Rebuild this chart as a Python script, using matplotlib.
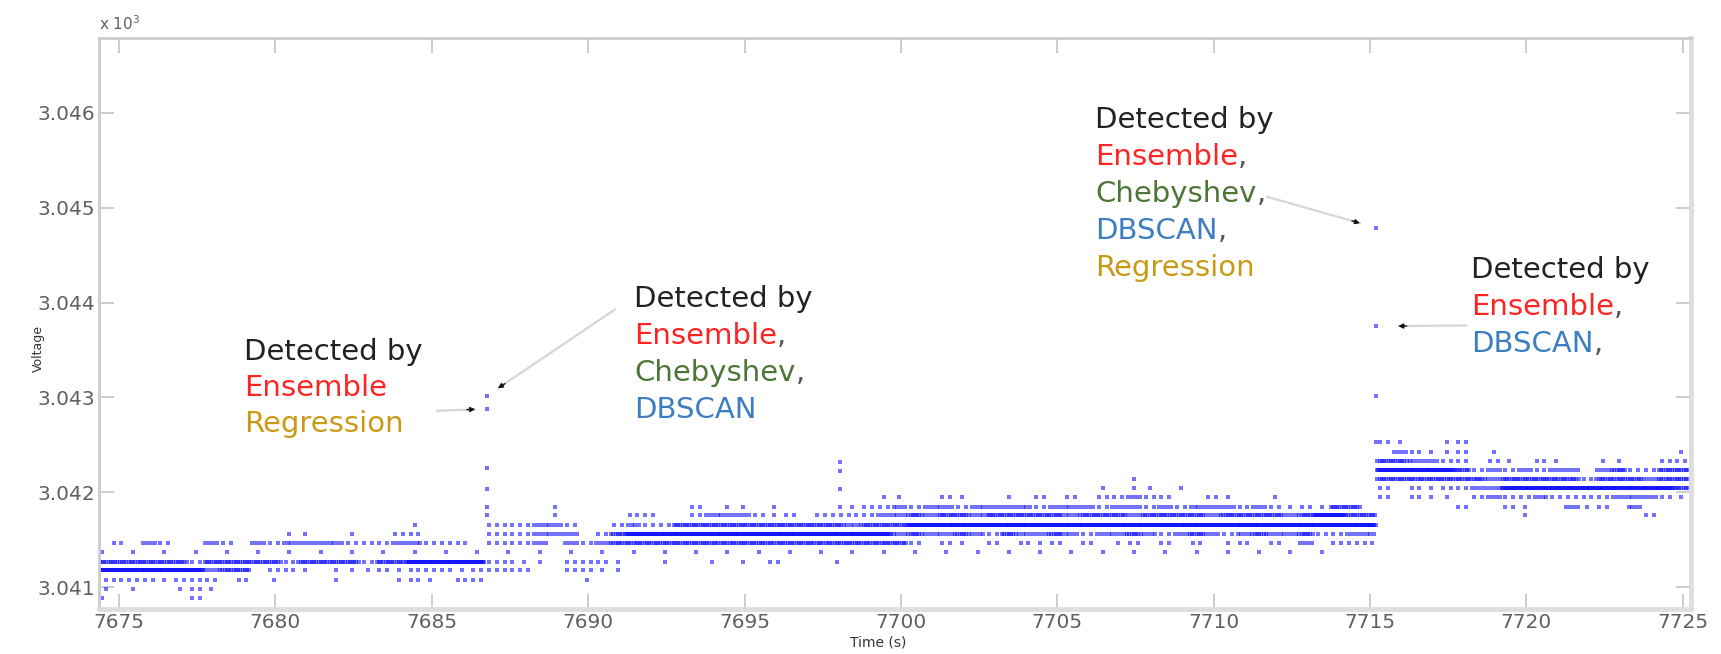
import matplotlib.pyplot as plt

# voltage levels (x 10^3), lowest first; the signal is quantised onto these rows
levels = [3.04089, 3.04098, 3.04108, 3.04118, 3.04127, 3.04137, 3.04147, 3.04156, 3.04166,
          3.04176, 3.04185, 3.04195, 3.04205, 3.04214, 3.04224, 3.04233, 3.04243, 3.04253]

# how many samples sit on each level in every 0.5 s column
# _ none   . 1   : 2   - 4   + 7   = 12 (solid run)
t_start = 7674.2
col_width = 0.5
occupancy = [
    "._____:___ __________ __________ __________ __________ __________ __________ __________ __________ __________ __",
    ":_.__.:.__ __________ __________ __________ __________ __________ __________ __________ __________ __________ __",
    "::::.:::_: _.___.___. :._::_____ _.________ __________ __________ __________ __________ __________ __________ __",
    "=======-++ _::._...:. :::.::::__ ::..______ __________ __________ __________ __________ __________ __________ __",
    "++++++:+++ ++:++++:++ =====::.._ :::.__.__. _._:___.__ __________ __________ __________ __________ __________ __",
    "._._._._._ ._._._._._ ._._._._._ ._._._._._ ._._._._._ ._._._._._ ._._._._._ ._._._._._ __________ __________ __",
    "_:_-:__-:_ -:----:::- -:::_:::-_ -:-+++++++ ++++++++++ ++:_:._:_: .:_:_.:_:_ :_.:_:_-_: ::________ __________ __",
    "__________ __..__.__: :____:::-- -_:+====== ========== =-+--+-:+- -+-:--+-:- +-:-+--+:: --________ __________ __",
    "__________ __________ .____:::-- :__:-::+++ ++++++++-+ ++======== ========== ========== ==________ __________ __",
    "__________ __________ _________. ____::__:- --:.:_:::: --+-++-+++ ++-+++-+++ +-++++-+== ++________ _._______: __",
    "__________ __________ _________. ________:_ .._.____.  ::-:--:--- -:---:--:- :---:-:.:. ++______:_ _:.__-.:_- __",
    "__________ __________ __________ __________ __________ ..__:.__._ :_:_::-::_ _:.__.____ __:_:.._:- ::-::::--- :.",
    "__________ __________ __________ __________ __________ __________ ____._.._. __________ __:_:.::-- ========== =+",
    "__________ __________ __________ __________ __________ __________ ______.___ __________ __+++++++- +++++:+++- ++",
    "__________ __________ __________ __________ __________ __________ __________ __________ __=====+:- :-:--_-+:: ++",
    "__________ __________ __________ __________ __________ __________ __________ __________ __++--::_: ._:.__..__ ::",
    "__________ __________ __________ __________ __________ __________ __________ __________ ___-:..:_. __________ _.",
    "__________ __________ __________ __________ __________ __________ __________ __________ __:.__.:__ __________ __",
]
dots_per_mark = {"_": 0, ".": 1, ":": 2, "-": 4, "+": 7, "=": 12}

# isolated samples (spikes and the flagged anomalies)
spike_t = [7686.77, 7686.77, 7686.77, 7686.77, 7686.77, 7686.77,
           7698.05, 7698.05, 7698.05, 7698.05,
           7715.19, 7715.19, 7715.19, 7715.19]
spike_v = [3.04176, 3.04185, 3.04203, 3.04226, 3.04288, 3.04302,
           3.04185, 3.04203, 3.04223, 3.04232,
           3.04253, 3.04302, 3.04375, 3.04479]

# anomalies that carry a callout: (time, voltage)
flagged = [(7686.77, 3.04288), (7686.77, 3.04302), (7715.19, 3.04479), (7715.19, 3.04375)]

x_ticks = [7675, 7680, 7685, 7690, 7695, 7700, 7705, 7710, 7715, 7720, 7725]
y_ticks = [3.041, 3.042, 3.043, 3.044, 3.045, 3.046]

RED = "#ff2424"
GREEN = "#4d7536"
BLUE = "#3d7dc2"
GOLD = "#c99a16"
DARK = "#222222"

# expand the occupancy table into sample points
times, volts = [], []
for v, row in zip(levels, occupancy):
    row = row.replace(" ", "")
    for i, ch in enumerate(row):
        n = dots_per_mark[ch]
        for j in range(n):
            times.append(t_start + col_width * (i + (j + 0.5) / n))
            volts.append(v)
times += spike_t
volts += spike_v

W, H = 1721, 654
fig = plt.figure(figsize=(W / 100, H / 100), dpi=100)
ax = fig.add_axes([99 / W, 1 - 609 / H, (1691 - 99) / W, (609 - 38) / H])

ax.plot(times, volts, linestyle="none", marker="s", markersize=2.3,
        markeredgewidth=0, color="#0000ff", alpha=0.55)

ax.set_xlim(7674.36, 7725.26)
ax.set_ylim(3.04077, 3.04679)
ax.set_xticks(x_ticks)
ax.set_yticks(y_ticks)
ax.set_yticklabels(["%.3f" % y for y in y_ticks])
ax.tick_params(direction="in", length=11, width=1.3, color="#c8c8c8",
               labelsize=14.5, labelcolor="#606060", top=True, right=True, pad=3)
for side in ["left", "top"]:
    ax.spines[side].set_color("#cccccc")
    ax.spines[side].set_linewidth(2)
for side in ["bottom", "right"]:
    ax.spines[side].set_color("#dedede")
    ax.spines[side].set_linewidth(3.5)

ax.text(0.0, 1.008, r"x 10$^3$", transform=ax.transAxes, fontsize=11,
        color="#606060", ha="left", va="bottom")
fig.text(878 / W, 1 - 643 / H, "Time (s)", fontsize=10, color="#333333",
         ha="center", va="center")
fig.text(38 / W, 1 - 348 / H, "Voltage", fontsize=9, color="#333333",
         ha="center", va="center", rotation=90)


def callout(x, y, lines, pitch=37):
    for n, (word, colour, comma) in enumerate(lines):
        txt = fig.text(x / W, 1 - (y + n * pitch) / H, word, fontsize=21,
                       color=colour, ha="left", va="baseline")
        if comma:
            ax.annotate(",", xy=(1, 0), xycoords=txt, fontsize=21,
                        color="#555555", ha="left", va="bottom")


def pointer(t, v, dx, dy, shrink):
    ax.annotate("", xy=(t, v), xytext=(dx, dy), textcoords="offset points",
                arrowprops=dict(arrowstyle="-", color="#d6d6d6", lw=1.6,
                                shrinkA=0, shrinkB=shrink))
    length = (dx ** 2 + dy ** 2) ** 0.5
    f = (shrink + 6) / length
    ax.annotate("", xy=(t, v), xytext=(dx * f, dy * f), textcoords="offset points",
                arrowprops=dict(arrowstyle="-|>", color="#111111", lw=1,
                                shrinkA=0, shrinkB=shrink, mutation_scale=7))


callout(244, 360, [("Detected by", DARK, False), ("Ensemble", RED, False),
                   ("Regression", GOLD, False)], pitch=36)
callout(634, 307, [("Detected by", DARK, False), ("Ensemble", RED, True),
                   ("Chebyshev", GREEN, True), ("DBSCAN", BLUE, False)])
callout(1095, 128, [("Detected by", DARK, False), ("Ensemble", RED, True),
                    ("Chebyshev", GREEN, True), ("DBSCAN", BLUE, True),
                    ("Regression", GOLD, False)])
callout(1471, 278, [("Detected by", DARK, False), ("Ensemble", RED, True),
                    ("DBSCAN", BLUE, True)])

pointer(flagged[0][0], flagged[0][1], -36, -1.4, 8.6)
pointer(flagged[1][0], flagged[1][1], 92, 62, 9.4)
pointer(flagged[2][0], flagged[2][1], -78.5, 22.3, 12)
pointer(flagged[3][0], flagged[3][1], 65, 0.7, 16)

fig.savefig("out.png", dpi=100)
